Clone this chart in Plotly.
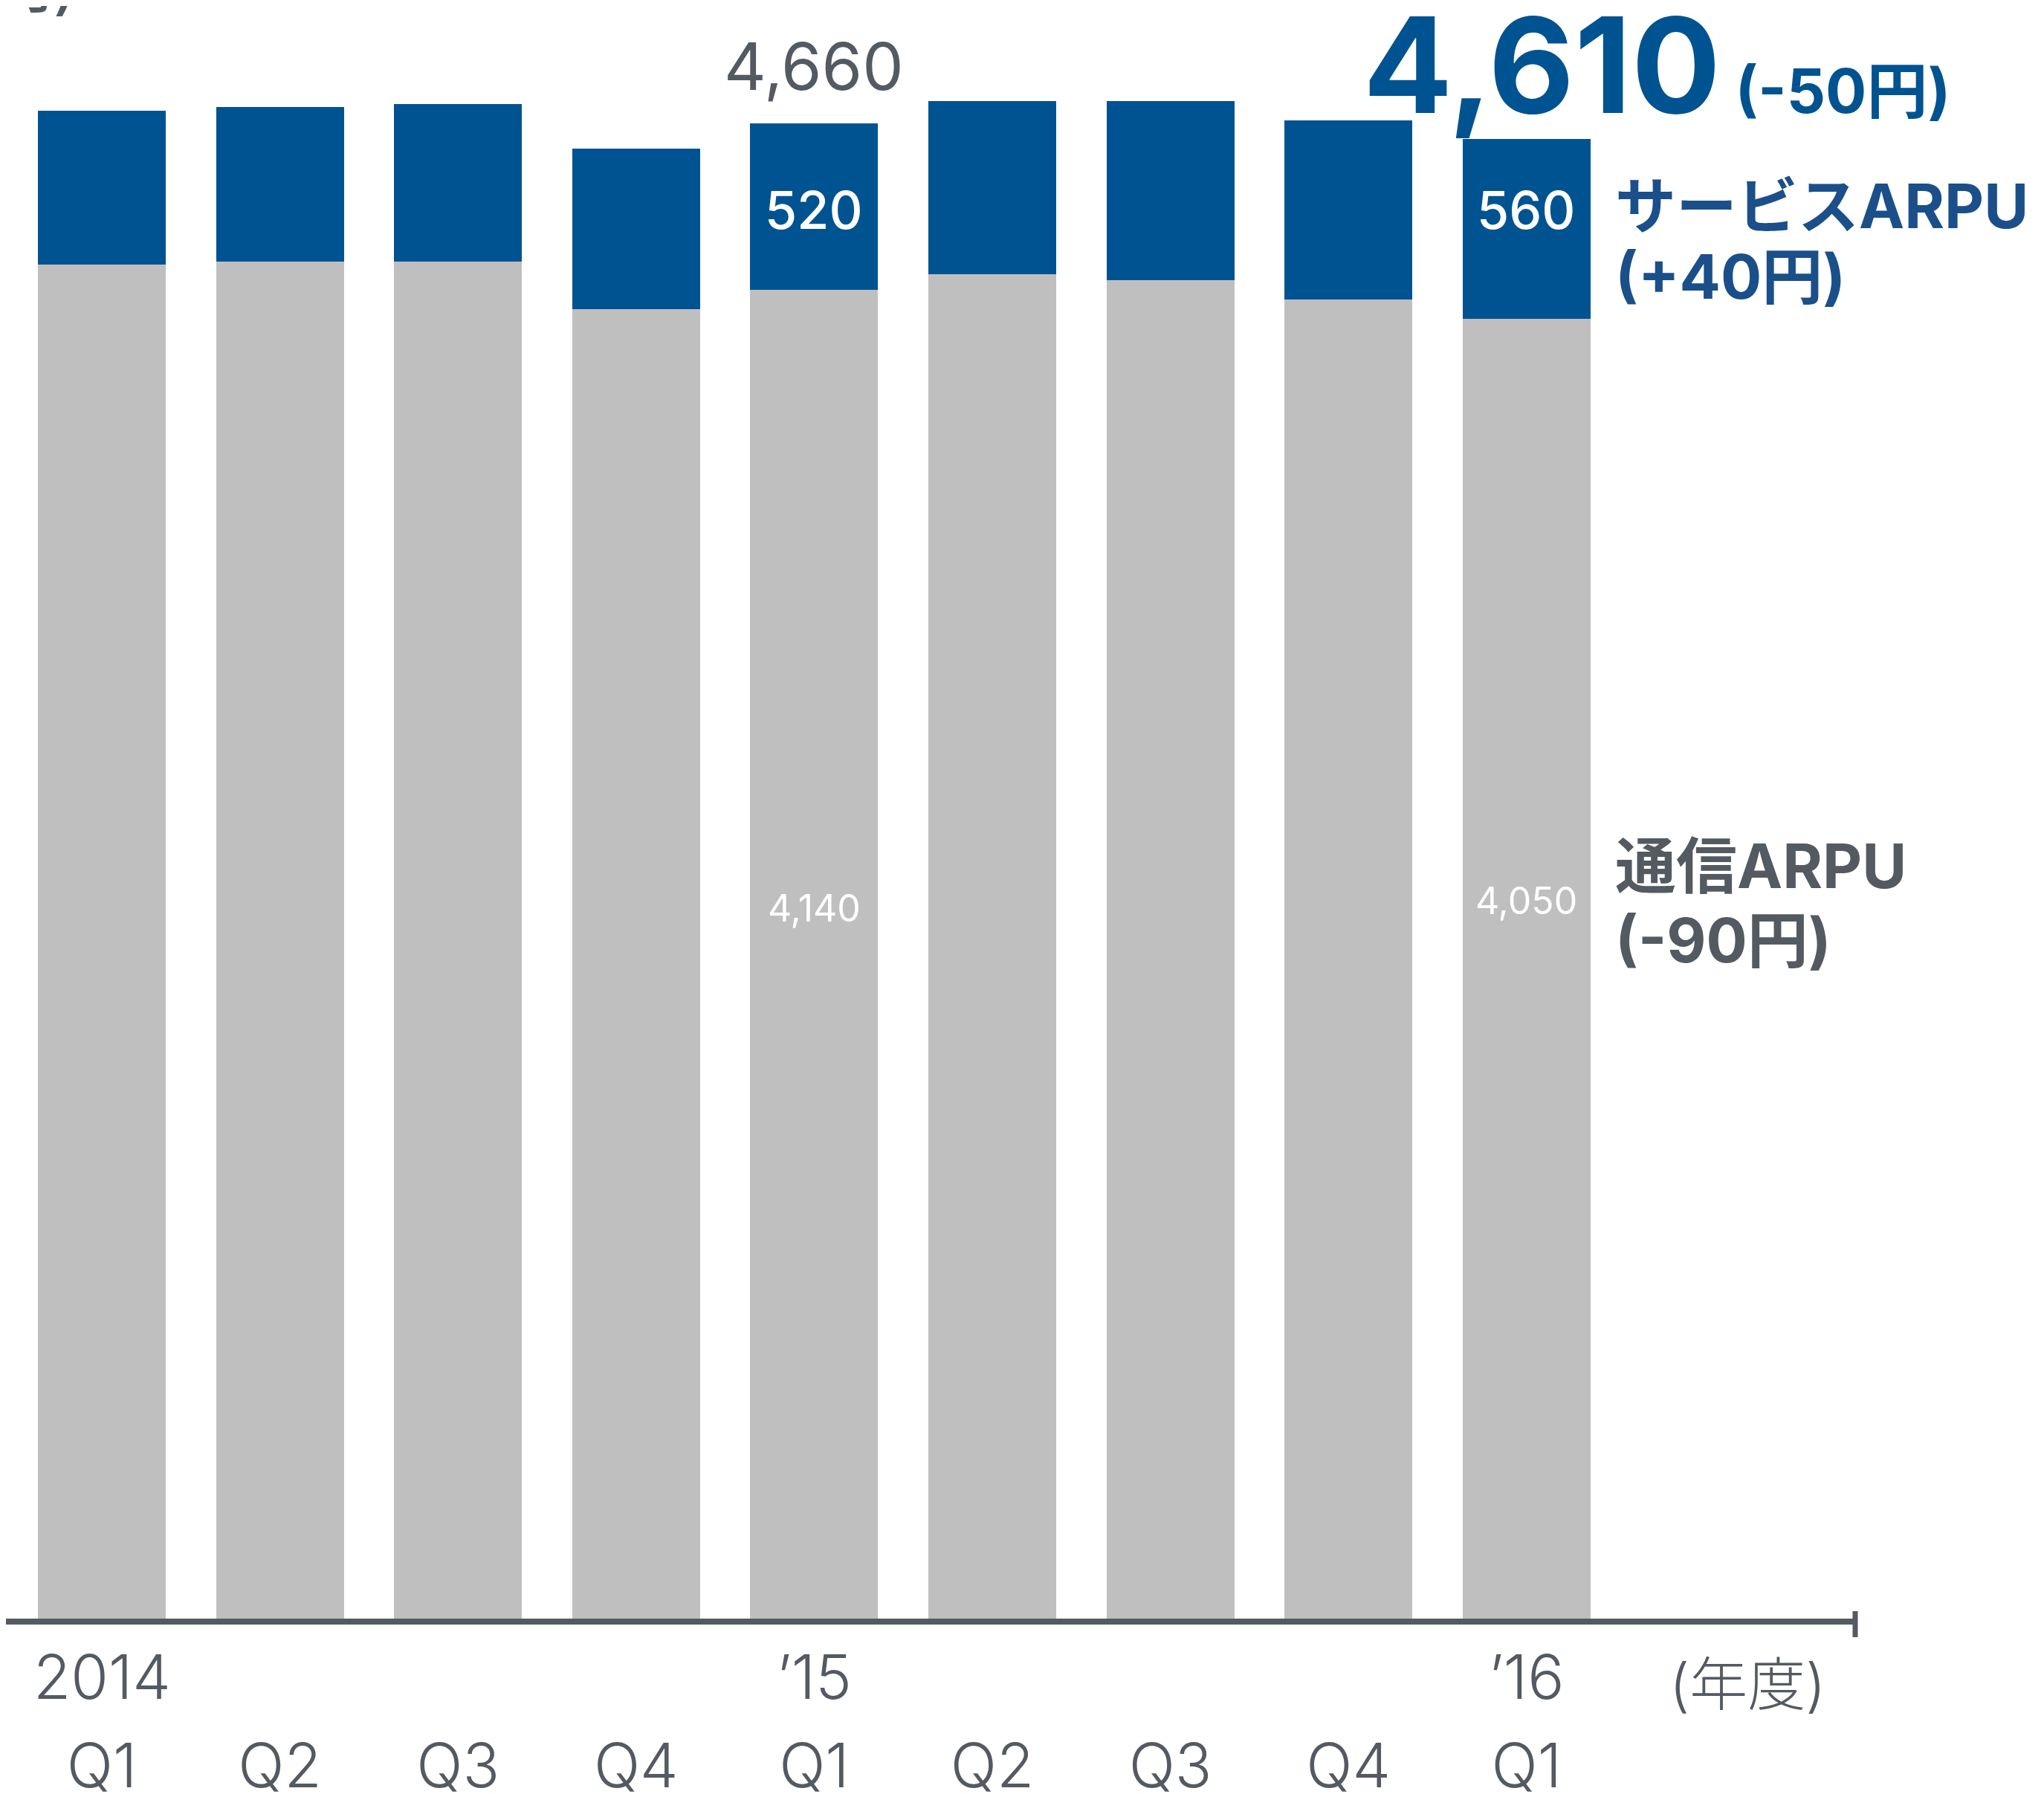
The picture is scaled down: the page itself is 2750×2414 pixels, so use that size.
import plotly.graph_objs as go

quarters = ['2014 Q1', '2014 Q2', '2014 Q3', '2014 Q4', '2015 Q1',
            '2015 Q2', '2015 Q3', '2015 Q4', '2016 Q1']
quarter_labels = ['Q1', 'Q2', 'Q3', 'Q4', 'Q1', 'Q2', 'Q3', 'Q4', 'Q1']
year_labels = ['2014', '', '', '', '’15', '', '', '', '’16']

comm_arpu = [4220, 4230, 4230, 4080, 4140, 4190, 4170, 4110, 4050]
service_arpu = [480, 480, 490, 500, 520, 540, 560, 560, 560]
total_arpu = [c + s for c, s in zip(comm_arpu, service_arpu)]

labelled = [4, 8]
service_name = ['サービスARPU', '(+40円)']
comm_name = ['通信ARPU', '(-90円)']
total_change = '(-50円)'
unit_label = '(円)'
year_unit = '(年度)'

FONT = 'Inter, Noto Sans CJK JP'
BLUE = '#005391'
GRAY = '#bfbfbf'
DARK = '#545a61'

# page body has an 8px margin, so the figure is 8px smaller than the window
W, H = 2742, 2406
PLOT_W = 2488

data = [
    go.Bar(x=quarters, y=comm_arpu, marker=dict(color=GRAY, line=dict(width=0)),
           hoverinfo='skip'),
    go.Bar(x=quarters, y=service_arpu, marker=dict(color=BLUE, line=dict(width=0)),
           hoverinfo='skip'),
]

annotations = []

# values inside the bars
for i in labelled:
    annotations.append(dict(x=quarters[i], xref='x', y=0.8737, yref='paper',
                            xanchor='center', yanchor='middle',
                            text=f'{service_arpu[i]:,}', showarrow=False,
                            font=dict(family=FONT, size=70, color='white', weight=500)))
for i, y in zip(labelled, [0.4406, 0.4452]):
    annotations.append(dict(x=quarters[i], xref='x', y=y, yref='paper',
                            xanchor='center', yanchor='middle',
                            text=f'{comm_arpu[i]:,}', showarrow=False,
                            font=dict(family=FONT, size=50, color='white')))

# totals above bars
annotations.append(dict(x=quarters[4], y=total_arpu[4], xanchor='center', yanchor='bottom',
                        yshift=22, text=f'{total_arpu[4]:,}', showarrow=False,
                        font=dict(family=FONT, size=88, color=DARK)))
annotations.append(dict(x=quarters[8], y=total_arpu[8], yanchor='bottom', yshift=-10,
                        xanchor='left', xshift=-222,
                        text=f'{total_arpu[8]:,}<span style="font-size:82px"> {total_change}</span>',
                        showarrow=False,
                        font=dict(family=FONT, size=178, color=BLUE, weight='bold')))

# series names on the right
for txt, y in zip(service_name, [0.8760, 0.8318]):
    annotations.append(dict(x=2163 / PLOT_W, xref='paper', y=y, yref='paper',
                            xanchor='left', yanchor='middle', text=txt, showarrow=False,
                            font=dict(family=FONT, size=82, color='#1a4f8a', weight='bold')))
for txt, y in zip(comm_name, [0.4668, 0.4203]):
    annotations.append(dict(x=2163 / PLOT_W, xref='paper', y=y, yref='paper',
                            xanchor='left', yanchor='middle', text=txt, showarrow=False,
                            font=dict(family=FONT, size=82, color=DARK, weight='bold')))

# fiscal year row
for q, yr in zip(quarters, year_labels):
    if yr:
        annotations.append(dict(x=q, xref='x', y=-0.0364, yref='paper', text=yr,
                                xanchor='center', yanchor='middle', showarrow=False,
                                font=dict(family=FONT, size=82, color=DARK, weight=300)))
annotations.append(dict(x=2343 / PLOT_W, xref='paper', y=-0.0406, yref='paper',
                        xanchor='center', yanchor='middle', text=year_unit, showarrow=False,
                        font=dict(family=FONT, size=78, color=DARK, weight=300)))

# unit label cut at top-left
annotations.append(dict(x=100 / PLOT_W, xref='paper', xanchor='right', y=0.988, yref='paper',
                        yanchor='bottom', text=unit_label, showarrow=False,
                        font=dict(family=FONT, size=96, color=DARK)))

layout = go.Layout(
    width=W, height=H,
    margin=dict(l=0, r=W - PLOT_W, t=0, b=236),
    barmode='stack', bargap=0.282, showlegend=False,
    plot_bgcolor='white', paper_bgcolor='white',
    xaxis=dict(type='category', range=[-0.5384, 9.8457], automargin=False,
               tickvals=quarters, ticktext=quarter_labels,
               tickfont=dict(family=FONT, size=82, color=DARK, weight=300),
               ticks='', ticklabelstandoff=121,
               showline=True, linewidth=8, linecolor=DARK,
               showgrid=False, zeroline=False),
    yaxis=dict(range=[0, 5025.5], visible=False, showgrid=False, zeroline=False,
               automargin=False),
    annotations=annotations,
    shapes=[dict(type='line', xref='paper', yref='paper', x0=1, x1=1,
                 y0=0.0046, y1=-0.0115, line=dict(color=DARK, width=7))],
)

fig = go.Figure(data=data, layout=layout)
fig.write_html('out.html')
